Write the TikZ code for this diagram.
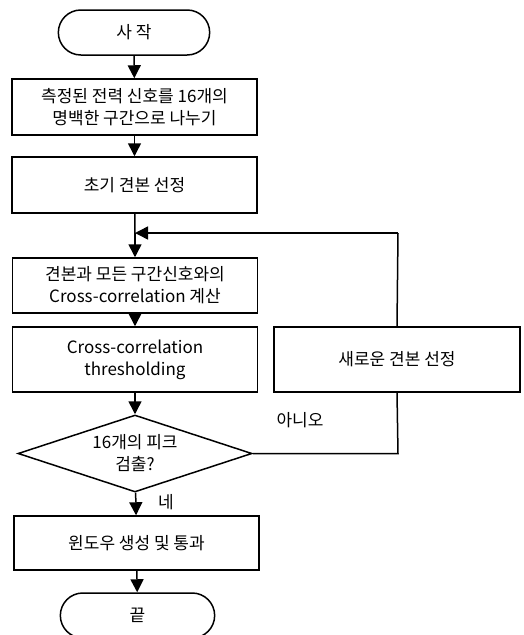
\documentclass[tikz,border=0pt]{standalone}
\usepackage{fontspec}
\setmainfont{Noto Sans CJK KR}
\usetikzlibrary{shapes.geometric,shapes.misc,arrows.meta}

\tikzset{
  stepbox/.style={draw, line width=1.5pt, rectangle, minimum width=245pt, align=center, inner sep=0pt},
  termbox/.style={draw, line width=1.5pt, rounded rectangle, minimum width=158pt, minimum height=45pt},
  askbox/.style={draw, line width=1.5pt, diamond, aspect=3, inner sep=0pt, minimum width=234pt, minimum height=77pt, align=center},
  flow/.style={line width=1.5pt, -{Triangle[width=13pt,length=13pt]}},
  link/.style={line width=1.5pt}
}

\begin{document}
\begin{tikzpicture}[x=1pt, y=1pt, font=\fontsize{17}{22}\selectfont]
% page frame
\useasboundingbox (0,0) rectangle (523,-635);

% Draw the main column
\node[termbox] (start) at (134,-32.5) {사 작};
\node[stepbox, minimum height=56pt] (split) at (134.5,-107) {측정된 전력 신호를 16개의\\명백한 구간으로 나누기};
\node[stepbox, minimum height=56pt] (init) at (134.5,-185) {초기 견본 선정};
\node[stepbox, minimum height=55pt] (xcorr) at (135,-285.5) {견본과 모든 구간신호와의\\Cross-correlation 계산};
\node[stepbox, minimum height=65pt] (thresh) at (135,-359.5) {Cross-correlation\\thresholding};
\node[askbox] (peaks) at (135,-453.5) {16개의 피크\\검출?};
\node[stepbox, minimum height=54pt] (window) at (136.5,-543) {윈도우 생성 및 통과};
\node[termbox, minimum width=161pt] (stop) at (137.5,-615.5) {끝};

% Draw the loop back column
\node[stepbox, minimum width=246pt, minimum height=65pt] (newref) at (397,-359.5) {새로운 견본 선정};
\coordinate (merge) at (135,-233);
\coordinate (upper) at (398,-233);
\coordinate (lower) at (398,-453.5);

% Connectors
\draw[flow] (start) -- (split);
\draw[flow] (split) -- (init);
\draw[link] (init) -- (merge);
\draw[flow] (merge) -- (xcorr);
\draw[flow] (xcorr) -- (thresh);
\draw[flow] (thresh) -- (peaks);
\draw[flow] (peaks) -- (window);
\draw[flow] (window) -- (stop);
\draw[link] (peaks.east) -- (lower) -- (newref.south);
\draw[link] (newref.north) -- (upper);
\draw[flow] (upper) -- (merge);

% Branch labels
\node (nolabel) at (300,-420) {아니오};
\node (yeslabel) at (166,-502) {네};
\end{tikzpicture}
\end{document}
